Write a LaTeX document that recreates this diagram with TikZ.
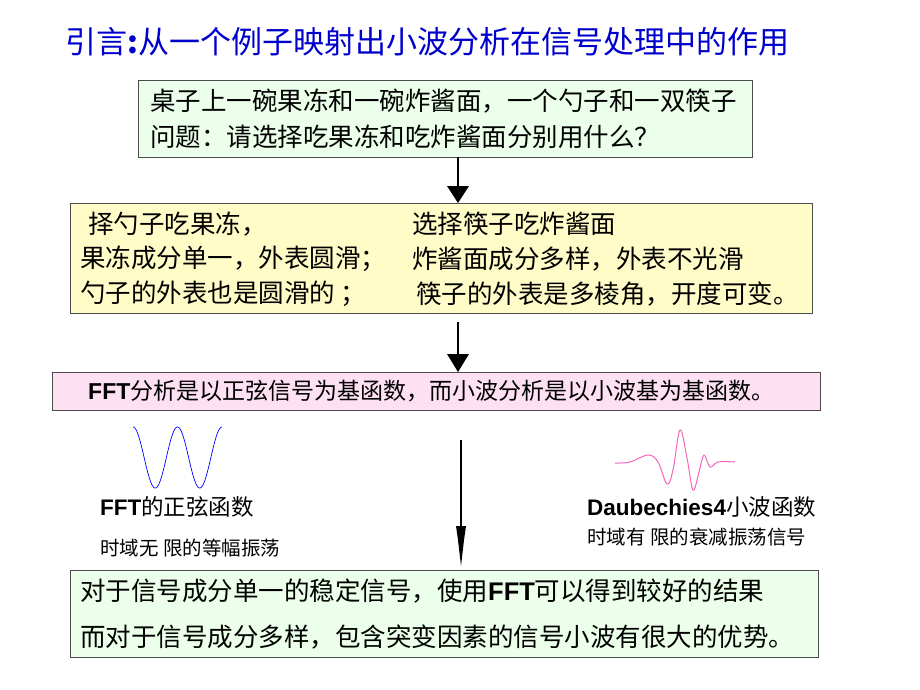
\documentclass[tikz,border=0pt]{standalone}
\usepackage{fontspec}
\setmainfont{Noto Sans CJK SC}
\newfontfamily\lat{Liberation Sans}
\begin{document}
\begin{tikzpicture}[x=1pt,y=-1pt,
  bx/.style={draw=black!70,line width=0.8pt},
  tx/.style={anchor=west,inner sep=0pt,font=\fontsize{25.5}{25.5}\selectfont},
  ar/.style={line width=1.2pt}]
\useasboundingbox (0,0) rectangle (920,690);
\node[anchor=west,inner sep=0pt,text=blue!80!black,font=\fontsize{31}{31}\selectfont] (title) at (65,42) {引言\textbf{:}从一个例子映射出小波分析在信号处理中的作用};
\filldraw[bx,fill=green!8] (138,80) rectangle (752,157);
\node[tx] (t1) at (150,101) {桌子上一碗果冻和一碗炸酱面，一个勺子和一双筷子};
\node[tx] (t2) at (150,137) {问题：请选择吃果冻和吃炸酱面分别用什么？};
\filldraw[bx,fill=yellow!22] (70,203) rectangle (812,313);
\node[tx] at (88,224) {择勺子吃果冻，};
\node[tx] at (412,224) {选择筷子吃炸酱面};
\node[tx] at (80,259) {果冻成分单一，外表圆滑；};
\node[tx] at (412,259) {炸酱面成分多样，外表不光滑};
\node[tx] at (80,294) {勺子的外表也是圆滑的 ；};
\node[tx] at (416,294) {筷子的外表是多棱角，开度可变。};
\filldraw[bx,fill=magenta!12] (52,372) rectangle (820,410);
\node[anchor=west,inner sep=0pt,font=\fontsize{23}{23}\selectfont] at (88,391) {{\lat\bfseries FFT}分析是以正弦信号为基函数，而小波分析是以小波基为基函数。};
\filldraw[bx,fill=green!8] (70,570) rectangle (818,657);
\node[tx] at (80,591) {对于信号成分单一的稳定信号，使用{\lat\bfseries FFT}可以得到较好的结果};
\node[tx] at (80,637) {而对于信号成分多样，包含突变因素的信号小波有很大的优势。};
% arrows
\coordinate (a1) at (458,157); \coordinate (a1h) at (458,188); \coordinate (a1e) at (458,203);
\draw[ar] (a1) -- (a1h);
\fill (447,186) -- (469,186) -- (a1e) -- cycle;
\coordinate (a2) at (458,322); \coordinate (a2e) at (458,372);
\draw[ar] (a2) -- (458,356);
\fill (447,354) -- (469,354) -- (a2e) -- cycle;
\coordinate (a3) at (461,440); \coordinate (a3e) at (461,566);
\draw[ar] (a3) -- (461,528);
\fill (456,526) -- (466,526) -- (464,540) -- (a3e) -- (458,540) -- cycle;
% waves
\draw[blue,line width=0.7pt,domain=0:89,samples=120,smooth] plot ({133+\x},{457.5-30.5*cos(\x/44.5*360)});
\draw[magenta!60,line width=1pt] plot[smooth,tension=0.6] coordinates {(615,463) (630,462) (648,455) (658,462) (667,484) (673,470) (680,430) (687,458) (693,490) (699,472) (704,455) (710,467) (718,462) (735,462)};
\node[anchor=west,inner sep=0pt,font=\fontsize{22.5}{22.5}\selectfont] at (100,507) {{\lat\bfseries FFT}的正弦函数};
\node[anchor=west,inner sep=0pt,font=\fontsize{19.5}{19.5}\selectfont] at (100,548) {时域无 限的等幅振荡};
\node[anchor=west,inner sep=0pt,font=\fontsize{22.5}{22.5}\selectfont] at (587,507) {{\lat\bfseries Daubechies4}小波函数};
\node[anchor=west,inner sep=0pt,font=\fontsize{19.5}{19.5}\selectfont] at (587,537) {时域有 限的衰减振荡信号};
\end{tikzpicture}
\end{document}
